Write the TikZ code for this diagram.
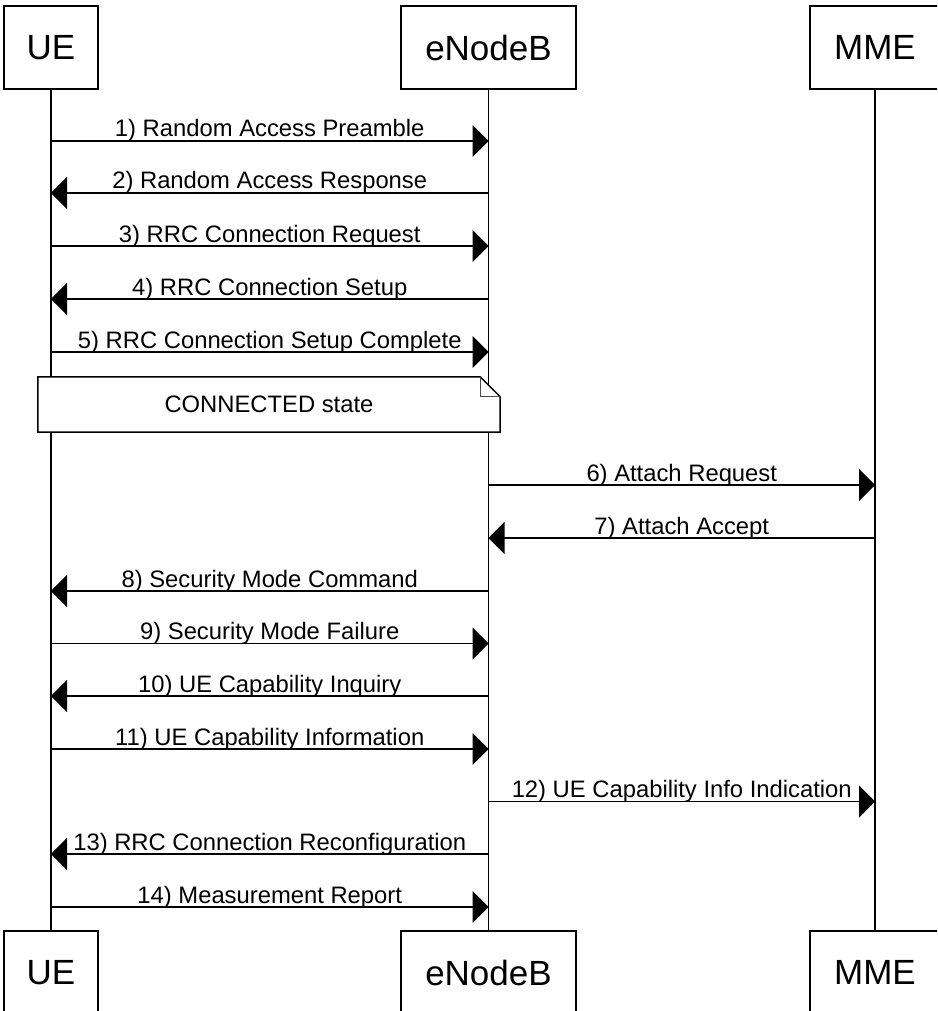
\documentclass[tikz,border=0pt]{standalone}
\usepackage{fontspec}
\setmainfont{Liberation Sans}
\usetikzlibrary{arrows.meta,calc}
\begin{document}
\begin{tikzpicture}[x=1pt,y=-1pt,
  lw/.style={line width=1.5pt},
  actor/.style={draw, lw, fill=white, inner sep=0pt, minimum height=83pt,
    font=\fontsize{35}{40}\selectfont},
  msg/.style={lw, -{Triangle[length=16pt,width=32pt]}},
  lbl/.style={anchor=base, yshift=4pt, inner sep=0pt, font=\fontsize{23.8}{28}\selectfont},
  life/.style={lw}
]
\useasboundingbox (0,0) rectangle (937,1011);
\clip (0,0) rectangle (937,1011);
% actors
\node[actor, minimum width=94pt]  (ueT)  at (51,47.5)   {UE};
\node[actor, minimum width=175pt] (enbT) at (488.5,47.5) {eNodeB};
\node[actor, minimum width=130pt] (mmeT) at (875,47.5)  {MME};
\node[actor, minimum width=94pt]  (ueB)  at (51,972.5)  {UE};
\node[actor, minimum width=175pt] (enbB) at (488.5,972.5) {eNodeB};
\node[actor, minimum width=130pt] (mmeB) at (875,972.5) {MME};
% lifelines
\draw[life] (ueT.south) -- (ueB.north);
\draw[life] (enbT.south) -- (enbB.north);
\draw[life] (mmeT.south) -- (mmeB.north);
% messages
\draw[msg] (ueT.south |- 0,141) -- node[lbl]{1) Random Access Preamble} (enbT.south |- 0,141);
\draw[msg] (enbT.south |- 0,193) -- node[lbl]{2) Random Access Response} (ueT.south |- 0,193);
\draw[msg] (ueT.south |- 0,246) -- node[lbl]{3) RRC Connection Request} (enbT.south |- 0,246);
\draw[msg] (enbT.south |- 0,299) -- node[lbl]{4) RRC Connection Setup} (ueT.south |- 0,299);
\draw[msg] (ueT.south |- 0,352) -- node[lbl]{5) RRC Connection Setup Complete} (enbT.south |- 0,352);
% note
\node[inner sep=0pt, minimum width=462pt, minimum height=55pt,
  font=\fontsize{23.8}{28}\selectfont] (note) at (269,404.5) {CONNECTED state};
\draw[lw, fill=white] (note.north west) -- ($(note.north east)+(-20,0)$) -- ($(note.north east)+(0,20)$)
  -- (note.south east) -- (note.south west) -- cycle;
\draw[line width=1.2pt, draw=black!70] ($(note.north east)+(-20,0)$) -- ($(note.north east)+(-20,20)$) -- ($(note.north east)+(0,20)$);
\node[inner sep=0pt, font=\fontsize{23.8}{28}\selectfont] (notetext) at (note.center) {CONNECTED state};
% messages continued
\draw[msg] (enbT.south |- 0,485) -- node[lbl]{6) Attach Request} (mmeT.south |- 0,485);
\draw[msg] (mmeT.south |- 0,538) -- node[lbl]{7) Attach Accept} (enbT.south |- 0,538);
\draw[msg] (enbT.south |- 0,591) -- node[lbl]{8) Security Mode Command} (ueT.south |- 0,591);
\draw[msg] (ueT.south |- 0,643.5) -- node[lbl]{9) Security Mode Failure} (enbT.south |- 0,643.5);
\draw[msg] (enbT.south |- 0,696) -- node[lbl]{10) UE Capability Inquiry} (ueT.south |- 0,696);
\draw[msg] (ueT.south |- 0,749) -- node[lbl]{11) UE Capability Information} (enbT.south |- 0,749);
\draw[msg] (enbT.south |- 0,801.5) -- node[lbl]{12) UE Capability Info Indication} (mmeT.south |- 0,801.5);
\draw[msg] (enbT.south |- 0,854) -- node[lbl]{13) RRC Connection Reconfiguration} (ueT.south |- 0,854);
\draw[msg] (ueT.south |- 0,907) -- node[lbl]{14) Measurement Report} (enbT.south |- 0,907);
\end{tikzpicture}
\end{document}
